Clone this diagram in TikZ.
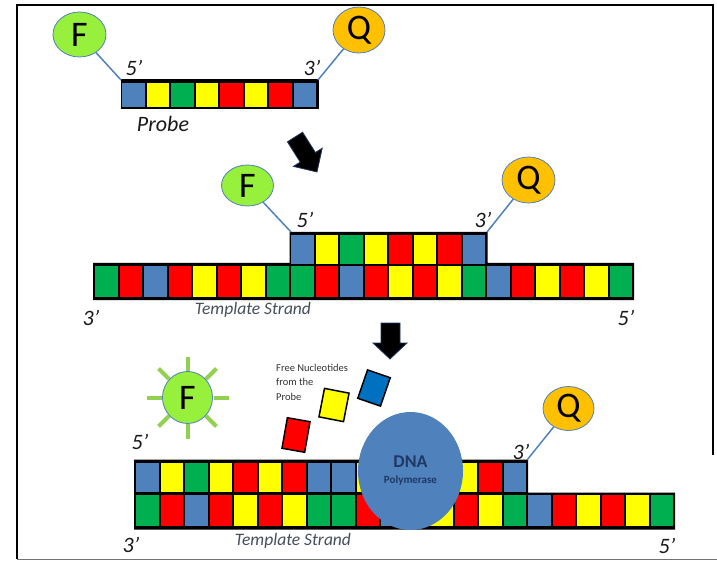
\documentclass[tikz,border=0pt]{standalone}
\usepackage{fontspec}
\setmainfont{Carlito}
\usetikzlibrary{shapes.geometric}

\definecolor{nb}{RGB}{79,129,189}
\definecolor{nr}{RGB}{255,0,0}
\definecolor{ny}{RGB}{255,255,0}
\definecolor{ng}{RGB}{0,176,80}
\definecolor{fgreen}{RGB}{150,240,60}
\definecolor{raygreen}{RGB}{146,208,80}
\definecolor{qorange}{RGB}{255,192,0}
\definecolor{freeblue}{RGB}{0,112,192}
\definecolor{navytext}{RGB}{31,56,100}
\definecolor{strandtext}{RGB}{70,78,92}

% one row of nucleotide cells, 24.5 wide, starting at x=#1, from y=#2 to y=#3
\newcommand{\cellrow}[4]{%
  \foreach \c [count=\i from 0] in {#4} {%
    \fill[\c] ({#1+24.5*\i+1},#2) rectangle ({#1+24.5*\i+23.5},#3);
  }%
}

\begin{document}
\begin{tikzpicture}[x=1pt,y=-1pt,
  lbl/.style={font=\fontsize{22}{22}\selectfont\itshape, text=black!90, inner sep=0pt},
  tmpl/.style={font=\fontsize{17.5}{18}\selectfont\itshape, text=strandtext, inner sep=0pt},
  fluor/.style={ellipse, draw=nb, line width=0.8pt, fill=fgreen, inner sep=0pt,
    font=\fontsize{36}{36}\selectfont},
  quench/.style={ellipse, draw=nb, line width=0.8pt, fill=qorange, inner sep=0pt,
    font=\fontsize{36}{36}\selectfont},
  link/.style={draw=nb, line width=1.5pt},
  ray/.style={draw=raygreen, line width=4pt},
  nuc/.style={draw=black, line width=1.5pt, inner sep=0pt},
  bigarrow/.style={fill=black, draw=navytext, line width=0.8pt, line join=miter}
]
\useasboundingbox (0,0) rectangle (717,561);

% frame
\draw[line width=2.5pt] (713,455) -- (713,5) -- (17,5) -- (17,559);
\draw[line width=1.5pt, black!55] (17,559.5) -- (717,559.5);

% ---------- probe ----------
\fill (120.5,79.5) rectangle (318.5,109);
\cellrow{121}{83}{107.5}{nb,ny,ng,ny,nr,ny,nr,nb}
\coordinate (p1l) at (121,80);
\coordinate (p1r) at (318,80);
\node[fluor, minimum width=53pt, minimum height=45pt] (f1) at (79.5,34.5) {F};
\node[quench, minimum width=52pt, minimum height=46pt] (q1) at (359,30) {Q};
\draw[link] (f1) -- (p1l);
\draw[link] (q1) -- (p1r);
\node[lbl] (t5a) at (134,68) {5’};
\node[lbl] (t3a) at (312,68) {3’};
\node[lbl] (probe) at (163,124) {Probe};

% first arrow
\fill[bigarrow] (302.6,132.2) -- (315.4,152.5) -- (322.2,148.2) -- (317,172)
  -- (293.4,166.4) -- (300.2,162.1) -- (287.4,141.8) -- cycle;

% ---------- probe bound to template ----------
\fill (93,263) -- (289.5,263) -- (289.5,232) -- (487.5,232) -- (487.5,263)
  -- (634,263) -- (634,300) -- (93,300) -- cycle;
\cellrow{290}{235.5}{264}{nb,ny,ng,ny,nr,ny,nr,nb}
\cellrow{94}{266}{297}{ng,nr,nb,nr,ny,nr,ny,ng,ng,nr,nb,nr,ny,nr,ny,ng,nb,nr,ny,nr,ny,ng}
\coordinate (p2l) at (291,232);
\coordinate (p2r) at (487,232);
\node[fluor, minimum width=52pt, minimum height=41pt] (f2) at (247.5,185.5) {F};
\node[quench, minimum width=53pt, minimum height=46pt] (q2) at (528.5,180) {Q};
\draw[link] (f2) -- (p2l);
\draw[link] (q2) -- (p2r);
\node[lbl] (t5b) at (305,220) {5’};
\node[lbl] (t3b) at (483,220) {3’};
\node[lbl] (t3c) at (91,318) {3’};
\node[lbl] (t5c) at (626,318) {5’};
\node[tmpl] (tsa) at (253,310) {Template Strand};

% second arrow
\fill[bigarrow] (381,323) -- (400,323) -- (400,343) -- (407,343) -- (390,359)
  -- (373,343) -- (381,343) -- cycle;

% ---------- extension and cleavage ----------
\fill (134,459.5) -- (528,459.5) -- (528,492.5) -- (675,492.5) -- (675,529.5)
  -- (134,529.5) -- cycle;
\cellrow{135}{463}{492}{nb,ny,ng,ny,nr,ny,nr,nb,nb,ny,nr,ng,nr,ny,nr,nb}
\cellrow{135}{495}{525.5}{ng,nr,nb,nr,ny,nr,ny,ng,ng,nr,nb,nr,ny,nr,ny,ng,nb,nr,ny,nr,ny,ng}
\coordinate (p3r) at (527,460);

% polymerase
\node[ellipse, fill=nb, minimum width=105pt, minimum height=118pt, inner sep=0pt]
  (pol) at (410.5,471) {};
\node[font=\fontsize{18}{18}\selectfont\bfseries, text=navytext, inner sep=0pt]
  (dna) at (410.5,462) {DNA};
\node[font=\fontsize{11}{11}\selectfont\bfseries, text=navytext, inner sep=0pt]
  (polname) at (410.5,481) {Polymerase};

% released fluorophore
\begin{scope}[shift={(187.5,397.5)}]
  \foreach \a in {0,45,...,315} \draw[ray] (\a:26) -- (\a:41);
\end{scope}
\node[fluor, minimum width=50pt, minimum height=52pt] (f3) at (187.5,397.5) {F};

% quencher still attached
\node[quench, minimum width=51pt, minimum height=44pt] (q3) at (568.5,408.5) {Q};
\draw[link] (q3) -- (p3r);

% free nucleotides
\node[nuc, fill=nr, minimum width=23pt, minimum height=31pt, rotate=-10] (n1) at (296,435) {};
\node[nuc, fill=ny, minimum width=25pt, minimum height=29pt, rotate=-11] (n2) at (334,405) {};
\node[nuc, fill=freeblue, minimum width=24pt, minimum height=30pt, rotate=-19] (n3) at (374,388) {};
\node[anchor=north west, align=left, inner sep=0pt, text=black!80,
  font=\fontsize{10.5}{14.5}\selectfont] (freetxt) at (276,364)
  {Free Nucleotides\\from the\\Probe};

\node[lbl] (t5d) at (140,442) {5’};
\node[lbl] (t3d) at (521,452) {3’};
\node[lbl] (t3e) at (131,545) {3’};
\node[lbl] (t5e) at (667,546) {5’};
\node[tmpl] (tsb) at (293,541) {Template Strand};
\end{tikzpicture}
\end{document}
